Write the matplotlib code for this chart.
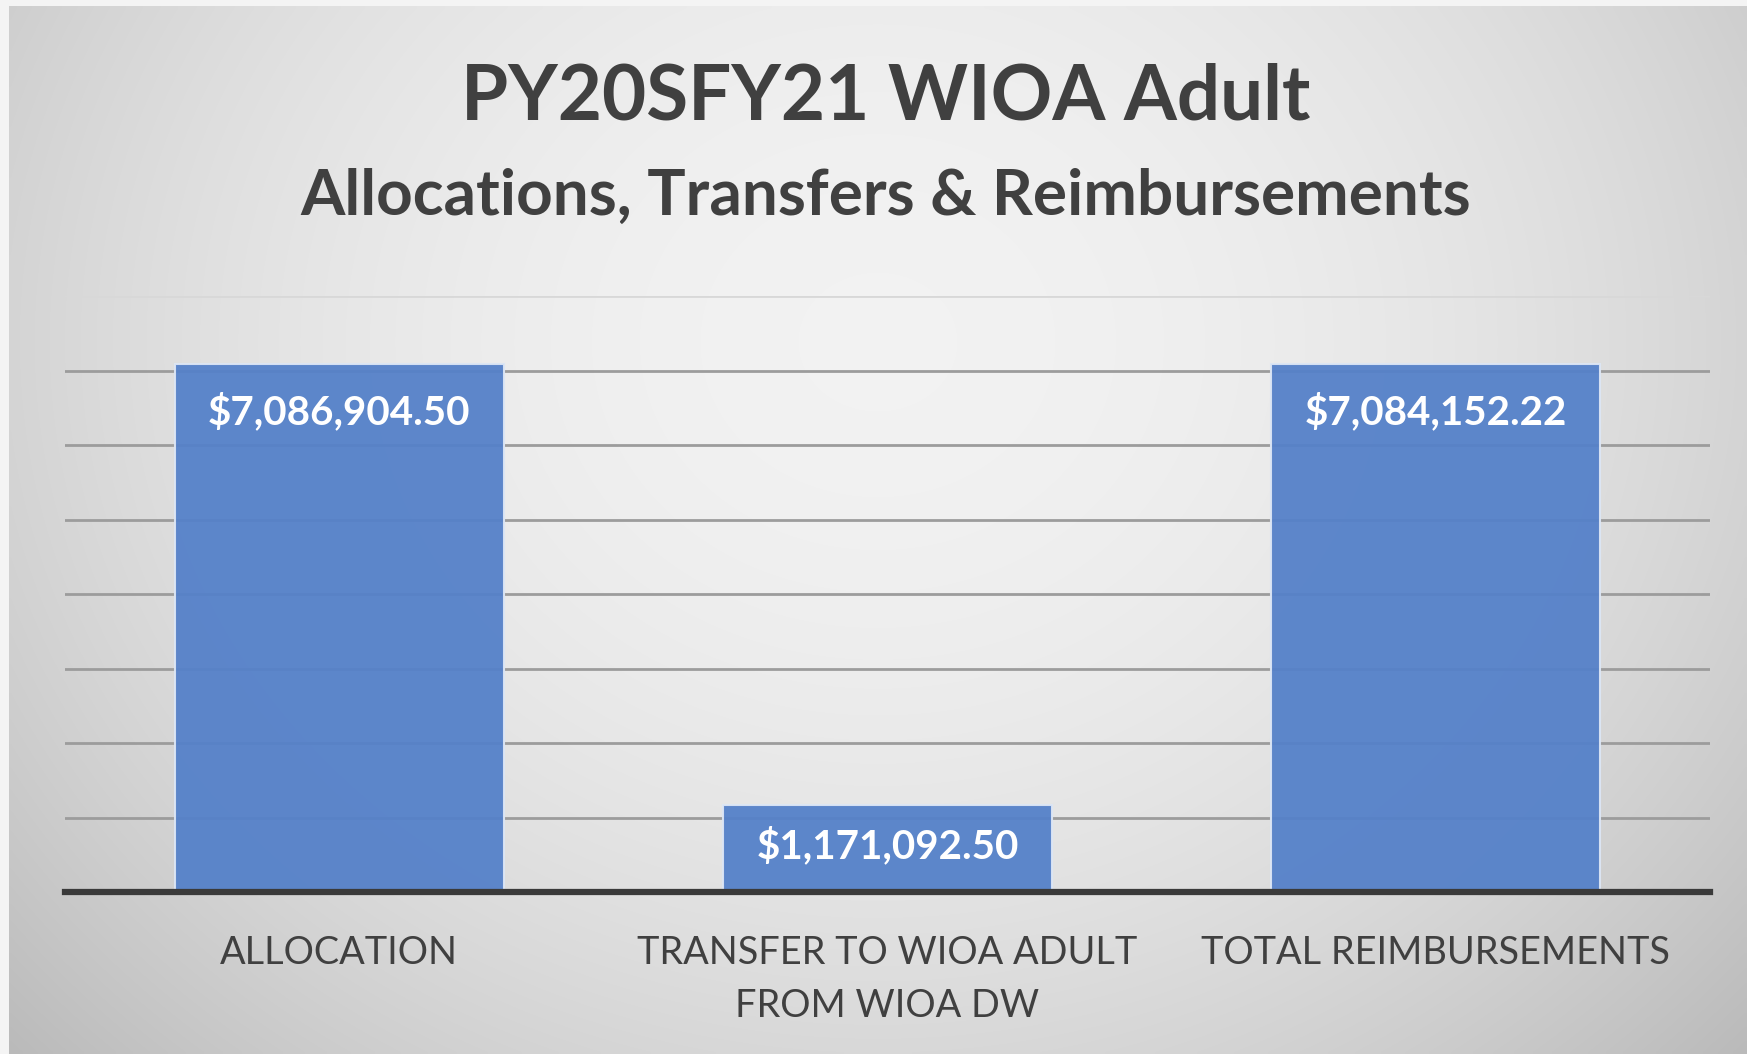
""" Bar chart of PY20SFY21 WIOA Adult allocations, transfers and reimbursements
"""
import numpy as np
import matplotlib
matplotlib.use('Agg')
from matplotlib import pyplot as plt

# Data
categories = ['ALLOCATION', 'TRANSFER TO WIOA ADULT\nFROM WIOA DW', 'TOTAL REIMBURSEMENTS']
amounts = [7086904.50, 1171092.50, 7084152.22]
title = 'PY20SFY21 WIOA Adult'
subtitle = 'Allocations, Transfers & Reimbursements'

plt.rcParams['font.family'] = ['Lato', 'DejaVu Sans']

W, H = 1747, 1054
fig = plt.figure(figsize=(W / 100, H / 100), dpi=100)
fig.patch.set_facecolor('#f4f4f4')

# Radial gradient background
bg = fig.add_axes([9 / W, 0, 1 - 9 / W, 1 - 6 / H])
gx, gy = np.meshgrid(np.linspace(0, 1, 400), np.linspace(0, 1, 240))
r = np.sqrt(((gx - 0.5) / 0.62) ** 2 + ((gy - 0.32) / 0.9) ** 2)
shade = 0.95 - 0.18 * np.clip(r, 0, 1.2) ** 2
bg.imshow(np.dstack([shade] * 3), extent=(0, 1, 0, 1), origin='upper',
          aspect='auto', interpolation='bilinear')
bg.axis('off')

# Chart axes
ax = fig.add_axes([65 / W, (H - 892) / H, (1710 - 65) / W, (892 - 296) / H])
ax.patch.set_alpha(0)
x = np.arange(len(categories))
bars = ax.bar(x, amounts, width=0.6, color='#5581c9', alpha=0.95,
              edgecolor='#dce6f5', linewidth=1.5, zorder=3)

ax.set_xlim(-0.5, len(categories) - 0.5)
ax.set_ylim(0, 8000000)
ax.set_yticks(np.arange(0, 8000001, 1000000))
ax.grid(axis='y', color='#9c9c9c', linewidth=2.0, zorder=1)
ax.set_axisbelow(True)
gls = ax.get_ygridlines()
gls[-1].set_color('#d8d8d8')

for s in ['top', 'right', 'left']:
    ax.spines[s].set_visible(False)
ax.spines['bottom'].set_color('#3a3a3a')
ax.spines['bottom'].set_linewidth(4.5)
ax.spines['bottom'].set_zorder(4)
ax.set_yticklabels([])
ax.tick_params(axis='y', length=0)
ax.tick_params(axis='x', length=0, pad=31)
ax.set_xticks(x)
ax.set_xticklabels(categories, fontsize=27.3, color='#404040', linespacing=1.6,
                   va='top')

# Value labels inside the bars, near the top end
for xi, v in zip(x, amounts):
    ax.text(xi, max(v - 645000, v * 0.53), '${:,.2f}'.format(v),
            ha='center', va='center', color='white', fontsize=29,
            fontweight='bold', zorder=5)

# Titles
cx = 0.507
fig.text(cx, (H - 98) / H, title, ha='center', va='center',
         fontsize=55, fontweight='bold', color='#404040')
fig.text(cx, (H - 196) / H, subtitle, ha='center', va='center',
         fontsize=46, fontweight='bold', color='#404040')

fig.savefig('out.png', dpi=100)
